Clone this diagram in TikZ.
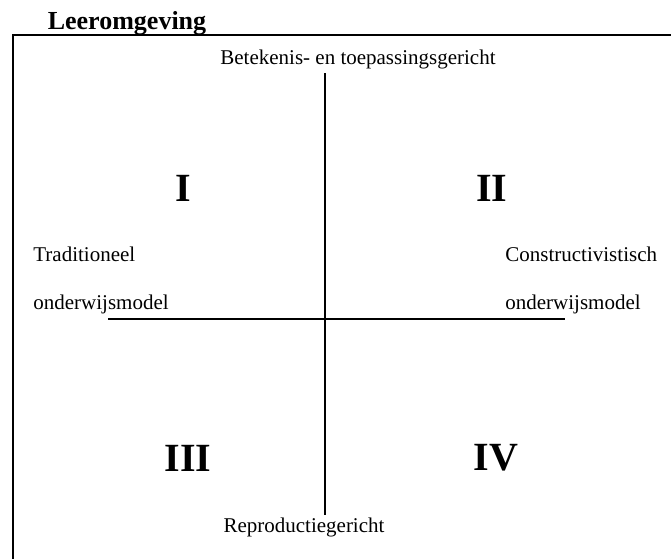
\documentclass[tikz,border=0pt]{standalone}
\usepackage{fontspec}
\setmainfont{Liberation Serif}
\usetikzlibrary{positioning}

\begin{document}
\begin{tikzpicture}[x=0.5pt, y=-0.5pt,
    every node/.style={inner sep=0pt, font=\fontsize{10.5}{12.5}\selectfont},
    kwadrant/.style={font=\fontsize{20}{24}\selectfont\bfseries},
    as/.style={line width=1pt}]
  \useasboundingbox (0,0) rectangle (671,559);
  % kader
  \node[anchor=base, font=\fontsize{13}{15}\selectfont\bfseries] (titel) at (127,29) {Leeromgeving};
  \draw[line width=1.2pt] (671,35) -- (13,35) -- (13,559);
  % assen
  \node[anchor=base] (boven) at (358,64) {Betekenis- en toepassingsgericht};
  \node[anchor=base] (onder) at (304,532) {Reproductiegericht};
  \coordinate (asboven) at (324.5,73);
  \coordinate (asonder) at (324.5,515);
  \coordinate (aslinks) at (108,318.5);
  \coordinate (asrechts) at (565,318.5);
  \draw[as] (asboven) -- (asonder);
  \draw[as] (aslinks) -- (asrechts);
  % onderwijsmodellen
  \node[anchor=base west] (trad) at (33,261) {Traditioneel};
  \node[anchor=base west] (tradmodel) at (33,309) {onderwijsmodel};
  \node[anchor=base west] (constr) at (505,261) {Constructivistisch};
  \node[anchor=base west] (constrmodel) at (505,309) {onderwijsmodel};
  % kwadranten
  \node[kwadrant] (k1) at (183,188) {I};
  \node[kwadrant] (k2) at (492,188) {II};
  \node[kwadrant] (k3) at (188,458) {III};
  \node[kwadrant] (k4) at (496,458) {IV};
\end{tikzpicture}
\end{document}
